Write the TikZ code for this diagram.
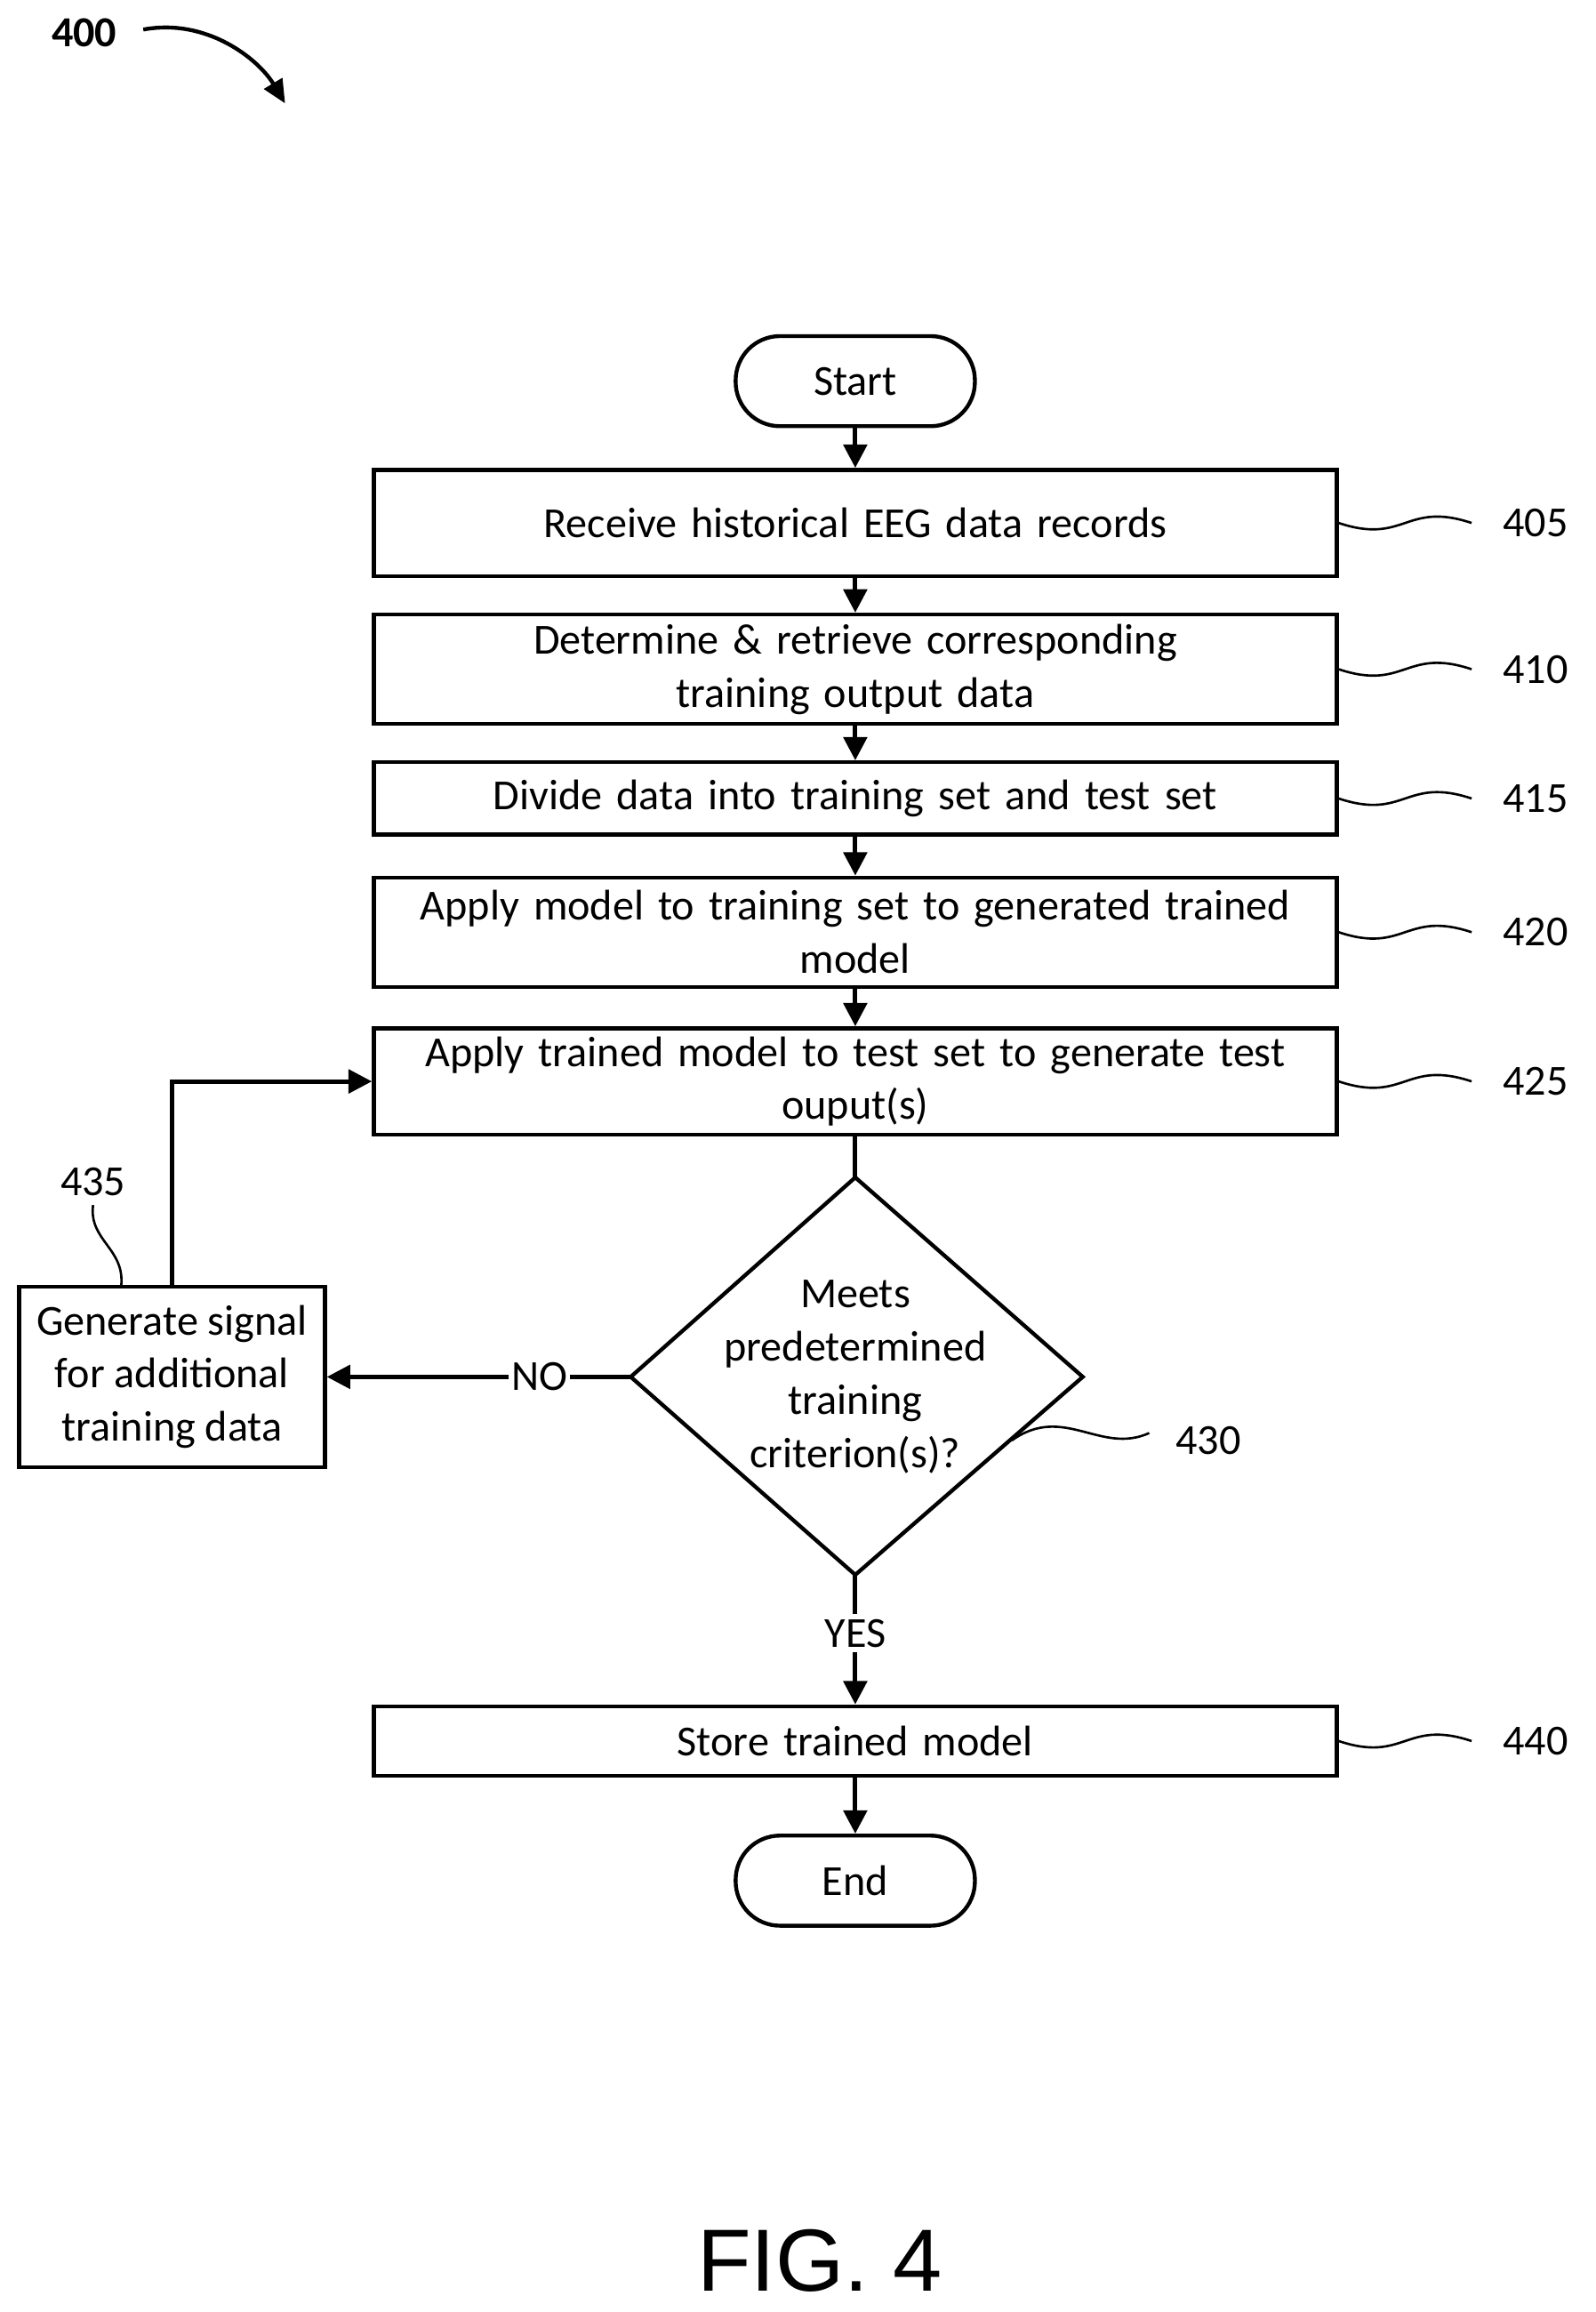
\documentclass[tikz,border=0pt]{standalone}
\usepackage{fontspec}
\setmainfont{Carlito}
\newfontfamily\figfont{Liberation Sans}
\usetikzlibrary{arrows.meta}
\tikzset{
  flow/.style={draw, line width=1.7pt, -{Triangle[length=9pt,width=9pt]}},
  stepbox/.style={draw, line width=1.5pt, minimum width=13.04cm, align=center, text width=12.6cm, inner sep=0pt},
  term/.style={draw, line width=1.5pt, rounded corners=0.6cm, minimum width=3.24cm, minimum height=1.22cm},
  refnum/.style={font=\fontsize{16.5}{20}\selectfont},
  wave/.style={line width=0.9pt}
}
\newcommand{\refwave}[3]{%
  \coordinate (#2w) at ([xshift=1.8cm]#1.east);
  \draw[wave] (#1.east) .. controls +(45,15) and +(-45,-15) .. (#2w);
  \node[refnum, anchor=west] (#2) at ([xshift=0.3cm]#2w) {#3};}
\begin{document}
\begin{tikzpicture}[x=0.02cm,y=-0.02cm, font=\fontsize{16.5}{20.5}\selectfont]
\useasboundingbox (0,0) rectangle (1080,1565);
% terminals and steps
\node[term] (start) at (579,258) {Start};
\node[stepbox, minimum height=1.44cm] (s405) at (579,354) {Receive historical EEG data records};
\node[stepbox, minimum height=1.48cm] (s410) at (579,453) {Determine \& retrieve corresponding\\training output data};
\node[stepbox, minimum height=0.98cm] (s415) at (579,540.5) {Divide data into training set and test set};
\node[stepbox, minimum height=1.48cm] (s420) at (579,631) {Apply model to training set to generated trained\\model};
\node[stepbox, minimum height=1.44cm] (s425) at (579,732) {Apply trained model to test set to generate test\\ouput(s)};
% decision
\coordinate (dn) at (579,797);
\coordinate (de) at (733,932);
\coordinate (ds) at (579,1066);
\coordinate (dw) at (427,932);
\draw[line width=1.5pt] (dn) -- (de) -- (ds) -- (dw) -- cycle;
\node[align=center] (d430) at (579,932) {Meets\\predetermined\\training\\criterion(s)?};
\node[draw, line width=1.5pt, minimum width=4.14cm, minimum height=2.44cm, align=center, inner sep=0pt] (s435) at (116.5,932) {Generate signal\\for additional\\training data};
\node[stepbox, minimum height=0.94cm] (s440) at (579,1178.5) {Store trained model};
\node[term] (end) at (579,1273) {End};
% connectors
\draw[flow] (start) -- (s405);
\draw[flow] (s405) -- (s410);
\draw[flow] (s410) -- (s415);
\draw[flow] (s415) -- (s420);
\draw[flow] (s420) -- (s425);
\draw[line width=1.7pt] (s425) -- (dn);
\draw[flow] (dw) -- node[fill=white, inner sep=1pt, pos=0.3] (no) {NO} (s435.east);
\draw[flow] (ds) -- node[fill=white, inner sep=2pt, pos=0.45] (yes) {YES} (s440);
\draw[flow] (s440) -- (end);
\draw[flow] (s435.north) |- (s425.west);
% reference numerals
\refwave{s405}{n405}{405}
\refwave{s410}{n410}{410}
\refwave{s415}{n415}{415}
\refwave{s420}{n420}{420}
\refwave{s425}{n425}{425}
\refwave{s440}{n440}{440}
\coordinate (c430) at (685,975);
\draw[wave] (c430) .. controls (720,950) and (745,985) .. (778,970);
\node[refnum] (n430) at (818,975) {430};
\node[refnum] (n435) at (63,800) {435};
\coordinate (c435) at (82,871);
\draw[wave] (n435.south) .. controls (60,840) and (85,845) .. (c435);
\node[font=\bfseries\fontsize{16.5}{20}\selectfont] (n400) at (57,22) {400};
\coordinate (a400) at (193,70);
\draw[line width=1.5pt, -{Triangle[length=9pt,width=8pt]}] (97,20) .. controls (140,12) and (175,40) .. (a400);
\node[font=\figfont\fontsize{34}{36}\selectfont] (fig) at (555,1530) {FIG. 4};
\end{tikzpicture}
\end{document}
